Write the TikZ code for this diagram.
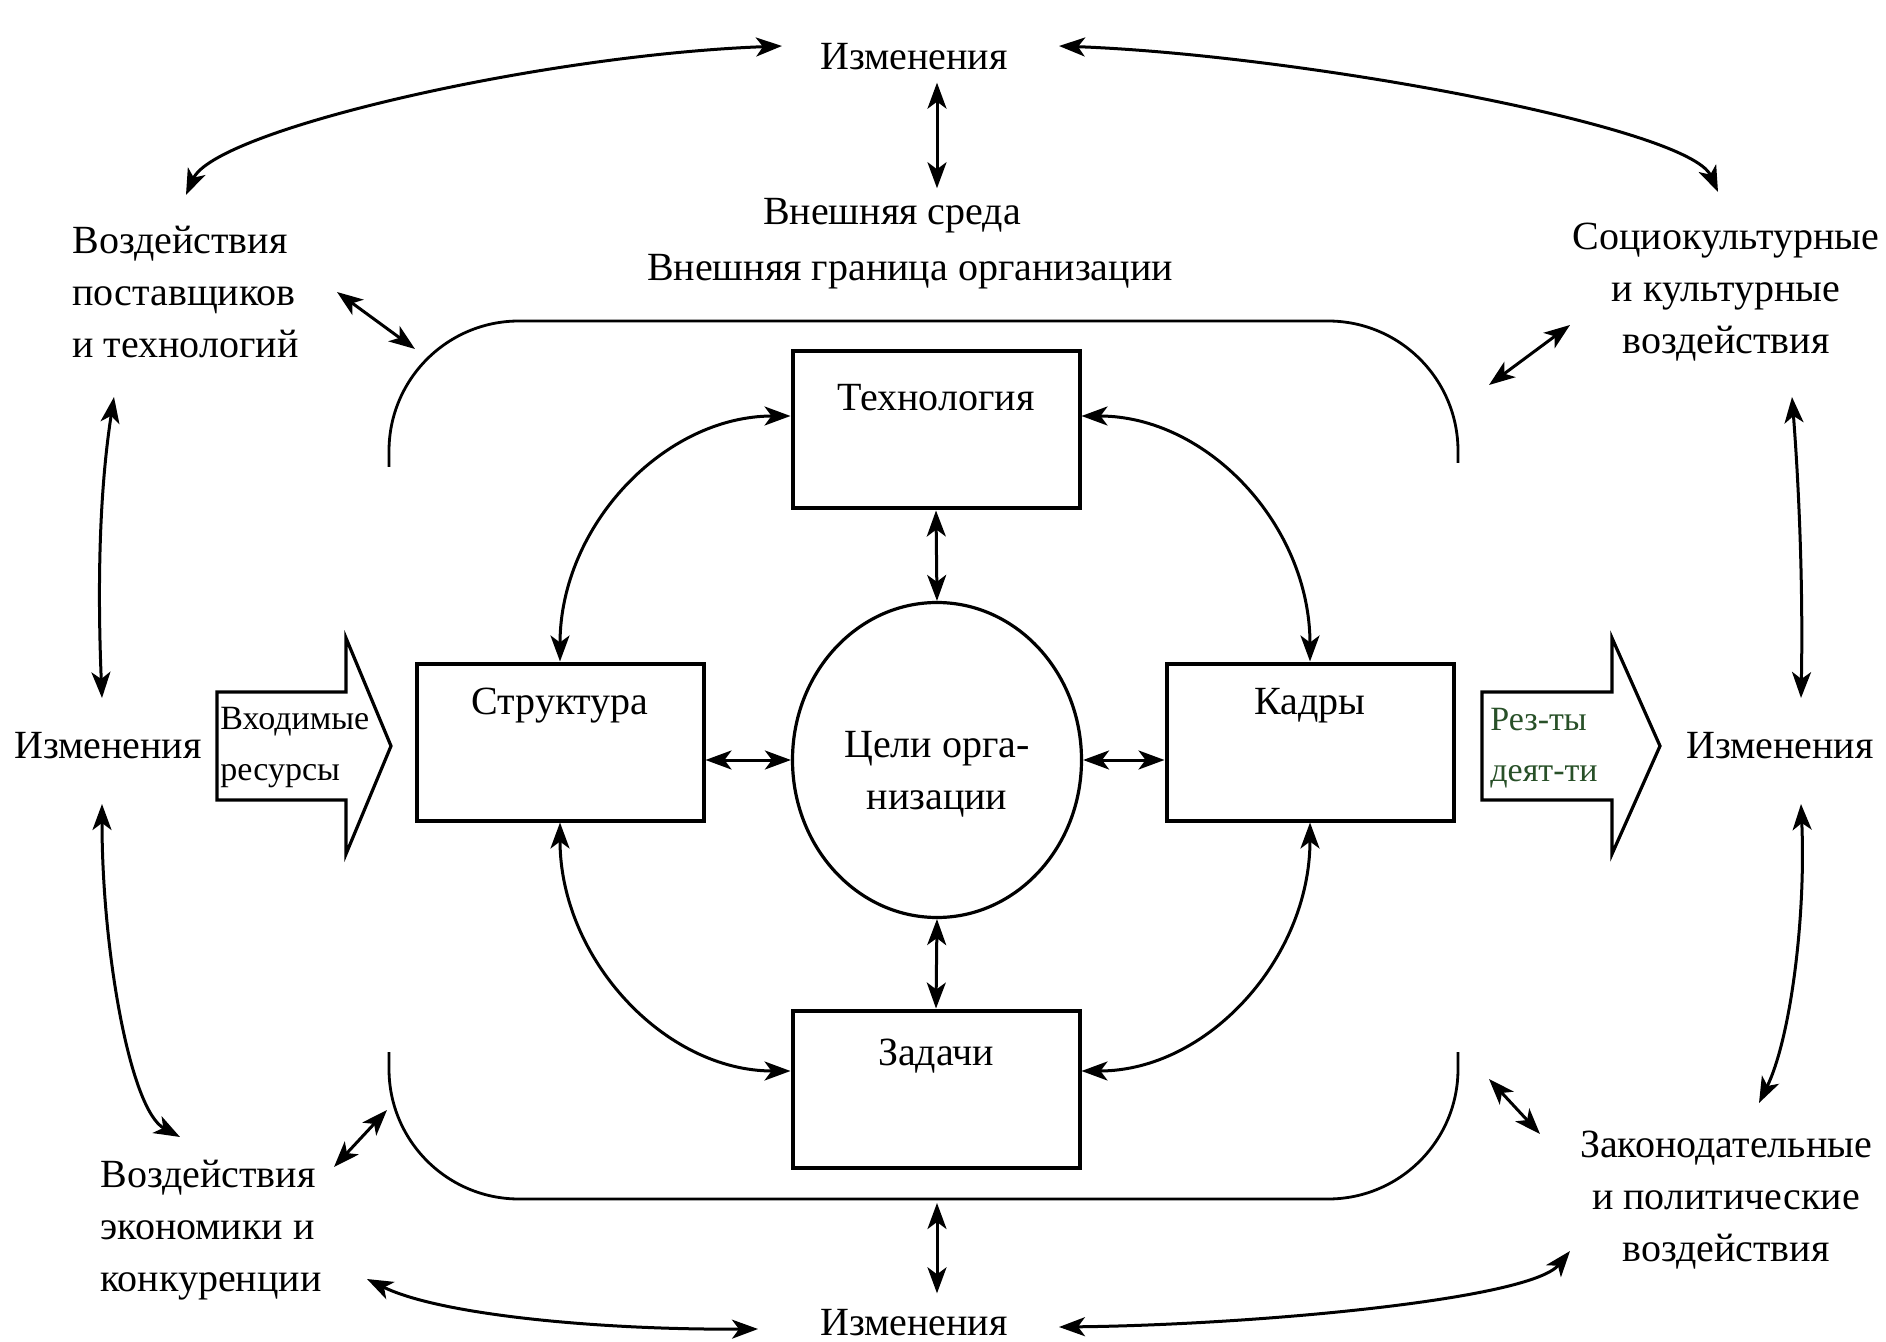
\documentclass[tikz,border=0pt]{standalone}
\usepackage{fontspec}
\setmainfont{Liberation Serif}
\usetikzlibrary{positioning,arrows.meta,shapes.geometric}
\definecolor{resgreen}{RGB}{40,80,40}

\begin{document}
\begin{tikzpicture}[x=0.5pt,y=-0.5pt]
	\tikzset{txt/.style={font=\fontsize{20}{26}\selectfont,inner sep=0pt,align=center}}
	\tikzset{restxt/.style={font=\fontsize{17}{25.5}\selectfont,inner sep=0pt,align=left}}
	\tikzset{unitbox/.style={draw,line width=2pt,minimum width=143.5pt,minimum height=78.5pt}}
	\tikzset{link/.style={{Stealth[length=13pt,width=9.5pt,inset=3.5pt]}-{Stealth[length=13pt,width=9.5pt,inset=3.5pt]},line width=1.5pt}}
	\tikzset{border/.style={line width=1.4pt,rounded corners=65pt}}
	\tikzset{bigarrow/.style={draw,line width=1.6pt,line join=miter}}
	\useasboundingbox (0,0) rectangle (1886,1342);

	% organisation
	\node[unitbox] (tech) at (936,430) {};
	\node[unitbox] (struct) at (560,742) {};
	\node[unitbox] (kadry) at (1310,742) {};
	\node[unitbox] (zadachi) at (936,1089) {};
	\node[txt] (techT) at ([yshift=-24pt]tech.north) {Технология};
	\node[txt] (structT) at ([yshift=-22pt]struct.north) {Структура};
	\node[txt] (kadryT) at ([yshift=-22pt]kadry.north) {Кадры};
	\node[txt] (zadachiT) at ([yshift=-24pt]zadachi.north) {Задачи};
	\node[draw,ellipse,line width=1.6pt,minimum width=144.5pt,minimum height=157.5pt] (celi) at (937,760) {};
	\node[txt] (celiT) at ([yshift=-7pt]celi.center) {Цели орга-\\низации};

	\draw[link] (tech.south) -- (celi.north);
	\draw[link] (celi.south) -- (zadachi.north);
	\draw[link] (struct.east |- celi.west) -- (celi.west);
	\draw[link] (celi.east) -- (kadry.west |- celi.east);
	\draw[link] (struct.north) .. controls +(0,-136) and +(-126,0) .. ([yshift=7pt]tech.west);
	\draw[link] (kadry.north) .. controls +(0,-136) and +(126,0) .. ([yshift=7pt]tech.east);
	\draw[link] (struct.south) .. controls +(0,136) and +(-126,0) .. ([yshift=9pt]zadachi.west);
	\draw[link] (kadry.south) .. controls +(0,136) and +(126,0) .. ([yshift=9pt]zadachi.east);

	% boundary
	\draw[border] (389,467) -- (389,321) -- (1458,321) -- (1458,463);
	\draw[border] (389,1052) -- (389,1199) -- (1458,1199) -- (1458,1052);
	\coordinate (bndB) at (937,1199);

	% inputs and outputs
	\draw[bigarrow] (217,692) -- (346,692) -- (346,638) -- (391,746) -- (346,854) -- (346,800) -- (217,800) -- cycle;
	\node[restxt,anchor=west] (vhod) at (220,748) {Входимые\\ресурсы};
	\draw[bigarrow] (1482,692) -- (1612,692) -- (1612,638) -- (1660,746) -- (1612,854) -- (1612,800) -- (1482,800) -- cycle;
	\node[restxt,anchor=west,text=resgreen] (rez) at (1490,748) {Рез-ты\\деят-ти};

	% environment
	\node[txt] (izmT) at (914,57) {Изменения};
	\node[txt] (sreda) at (892,216) {Внешняя среда};
	\node[txt] (granica) at (910,272) {Внешняя граница организации};
	\node[txt,align=left,anchor=west] (vozdPost) at (72,292) {Воздействия\\поставщиков\\и технологий};
	\node[txt] (vozdSoc) at (1726,292) {Социокультурные\\и культурные\\воздействия};
	\node[txt] (izmL) at (108,746) {Изменения};
	\node[txt] (izmR) at (1780,746) {Изменения};
	\node[txt,align=left,anchor=west] (vozdEk) at (100,1230) {Воздействия\\экономики и\\конкуренции};
	\node[txt] (vozdZak) at (1726,1200) {Законодательные\\и политические\\воздействия};
	\node[txt] (izmB) at (914,1323) {Изменения};

	\coordinate (tl1) at (782,46);   \coordinate (tl2) at (186,195);
	\coordinate (tr1) at (1059,46);  \coordinate (tr2) at (1718,192);
	\coordinate (bl1) at (367,1279); \coordinate (bl2) at (758,1329);
	\coordinate (br1) at (1059,1327);\coordinate (br2) at (1570,1251);
	\coordinate (lu1) at (114,397);  \coordinate (lu2) at (102,698);
	\coordinate (ld1) at (102,804);  \coordinate (ld2) at (180,1137);
	\coordinate (ru1) at (1792,397); \coordinate (ru2) at (1801,698);
	\coordinate (rd1) at (1801,804); \coordinate (rd2) at (1759,1103);
	\coordinate (pst1) at (337,292); \coordinate (pst2) at (415,349);
	\coordinate (soc1) at (1489,385);\coordinate (soc2) at (1570,325);
	\coordinate (ek1) at (334,1167); \coordinate (ek2) at (387,1110);
	\coordinate (zak1) at (1489,1079);\coordinate (zak2) at (1540,1134);

	\draw[link] (tl1) .. controls (540,55) and (215,130) .. (tl2);
	\draw[link] (tr1) .. controls (1301,55) and (1689,127) .. (tr2);
	\draw[link] (bl1) .. controls (440,1315) and (600,1330) .. (bl2);
	\draw[link] (br1) .. controls (1250,1325) and (1530,1300) .. (br2);
	\draw[link] (lu1) .. controls (98,500) and (98,600) .. (lu2);
	\draw[link] (ld1) .. controls (102,950) and (130,1110) .. (ld2);
	\draw[link] (ru1) .. controls (1800,500) and (1803,600) .. (ru2);
	\draw[link] (rd1) .. controls (1806,920) and (1790,1040) .. (rd2);
	\draw[link] (pst1) -- (pst2);
	\draw[link] (soc1) -- (soc2);
	\draw[link] (ek1) -- (ek2);
	\draw[link] (zak1) -- (zak2);
	\draw[link,shorten <=6pt,shorten >=5pt] (izmT.south -| celi.north) -- (sreda.north -| celi.north);
	\draw[link,shorten <=2pt,shorten >=8pt] (bndB) -- (izmB.north -| bndB);
\end{tikzpicture}
\end{document}
